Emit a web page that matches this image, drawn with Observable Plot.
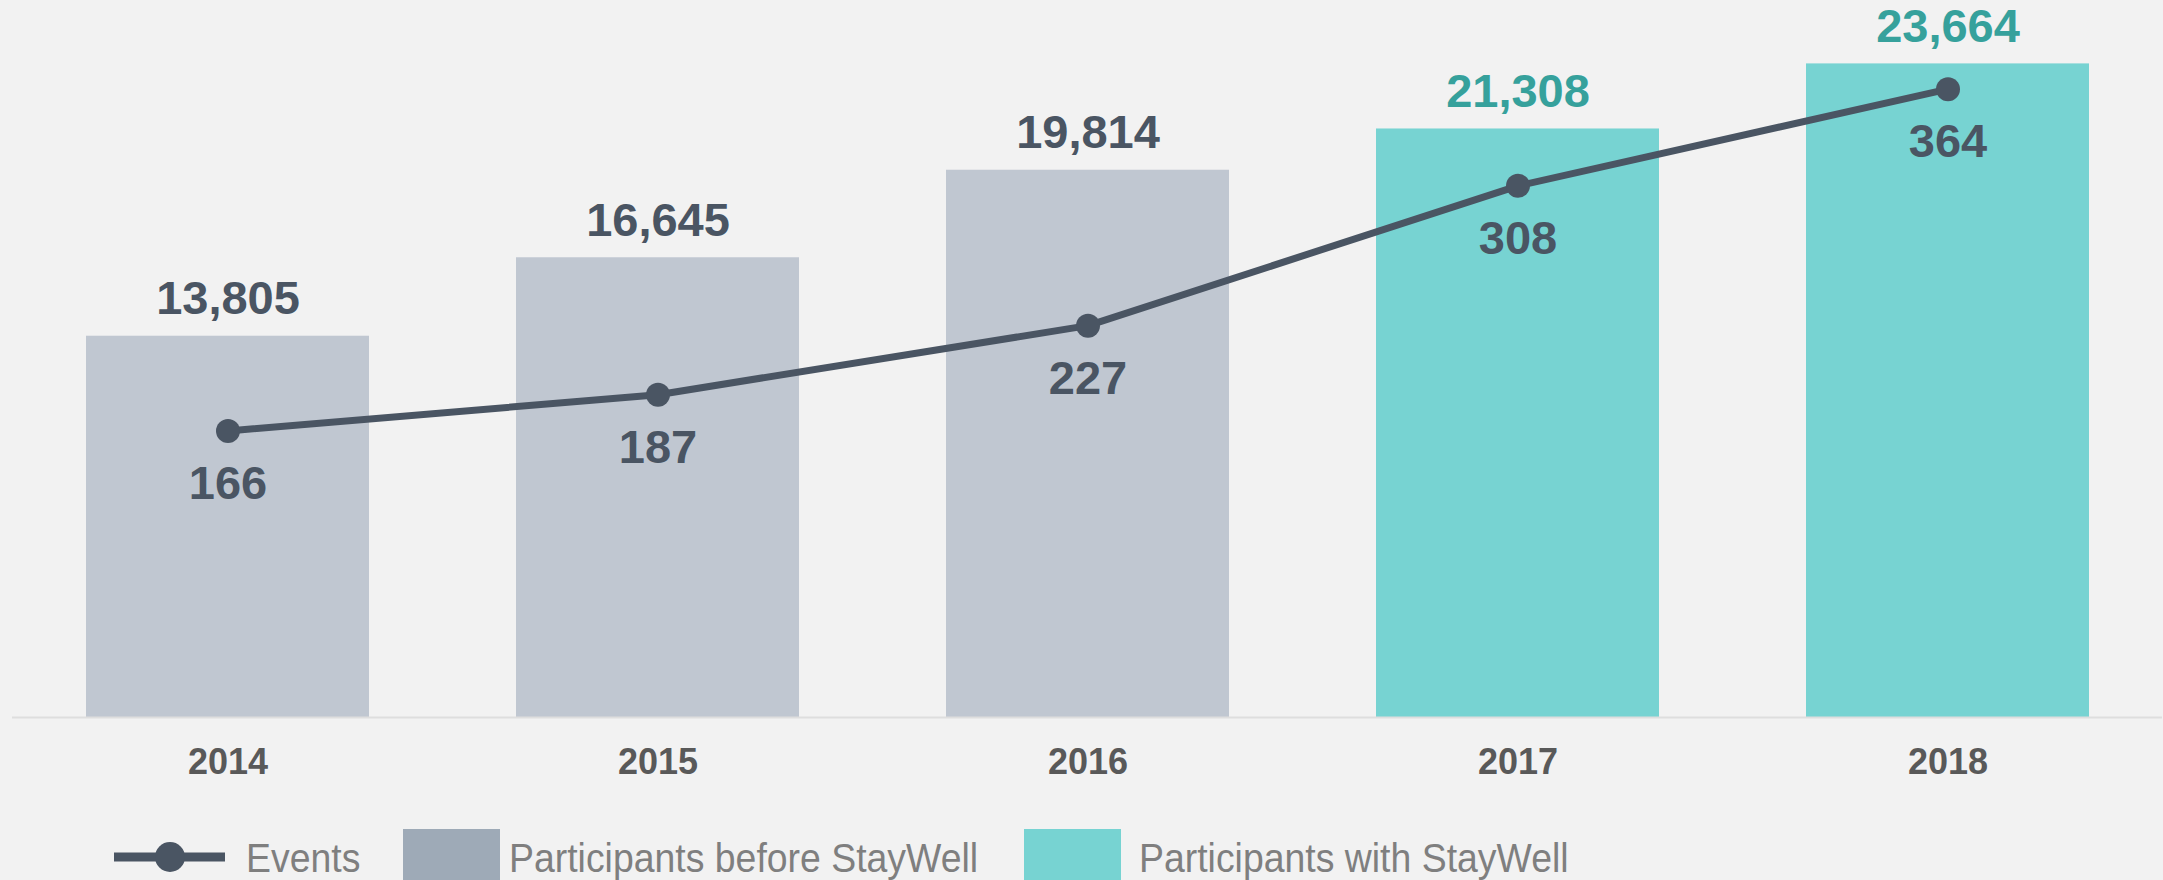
<!DOCTYPE html>
<html>
<head>
<meta charset="utf-8">
<script src="https://cdn.jsdelivr.net/npm/d3@7"></script>
<script src="https://cdn.jsdelivr.net/npm/@observablehq/plot@0.6"></script>
<style>
  html, body { margin: 0; padding: 0; background: #f2f2f2; overflow: hidden; width: 2163px; height: 880px; }
  #chart svg { display: block; }
  #legend { position: relative; height: 70px; width: 2163px; font-family: "Liberation Sans", Arial, sans-serif; color: #7f7f7f; }
  #legend .txt { position: absolute; top: 28px; font-size: 40px; line-height: 40px; white-space: nowrap; transform: scaleX(0.935); transform-origin: left top; }
  #legend .sw { position: absolute; top: 19px; width: 97px; height: 60px; }
</style>
</head>
<body>
<div id="chart"></div>
<div id="legend"></div>
<script>
const years = ["2014", "2015", "2016", "2017", "2018"];
const participants = [13805, 16645, 19814, 21308, 23664];
const events = [166, 187, 227, 308, 364];
const groups = ["before", "before", "before", "with", "with"];
const legendLabels = ["Events", "Participants before StayWell", "Participants with StayWell"];

const barMax = 25000;   // left axis max
const eventMax = 400;   // secondary axis max
const ratio = barMax / eventMax;

const colors = {
  before: "#c0c7d1",
  with: "#77d3d2",
  beforeSwatch: "#9eaab7",
  line: "#4a5563",
  teal: "#36a19c",
  year: "#595959"
};

const data = years.map((y, i) => ({
  year: y,
  participants: participants[i],
  events: events[i],
  group: groups[i]
}));

const chart = Plot.plot({
  width: 2163,
  height: 810,
  marginLeft: 12,
  marginRight: 1,
  marginTop: 26.5,
  marginBottom: 93,
  style: { background: "#f2f2f2", fontFamily: "'Liberation Sans', Arial, sans-serif" },
  x: { type: "band", domain: years, paddingInner: 0.342, paddingOuter: 0.17, axis: null },
  y: { domain: [0, barMax], axis: null },
  marks: [
    Plot.barY(data, { x: "year", y: "participants", fill: d => d.group === "before" ? colors.before : colors.with }),
    Plot.ruleY([0], { stroke: "#dedede", strokeWidth: 2 }),
    Plot.text(data, { x: "year", y: 0, text: "year", dy: 44.5, fontSize: 36, fontWeight: "bold", fill: colors.year }),
    Plot.text(data, { x: "year", y: "participants", text: d => d3.format(",")(d.participants), dy: -37, fontSize: 47, fontWeight: "bold", fill: d => d.group === "before" ? colors.line : colors.teal }),
    Plot.line(data, { x: "year", y: d => d.events * ratio, stroke: colors.line, strokeWidth: 7 }),
    Plot.dot(data, { x: "year", y: d => d.events * ratio, r: 12, fill: colors.line }),
    Plot.text(data, { x: "year", y: d => d.events * ratio, text: d => String(d.events), dy: 53, fontSize: 47, fontWeight: "bold", fill: colors.line })
  ]
});
document.getElementById("chart").appendChild(chart);

// Legend
const legend = document.getElementById("legend");
const ns = "http://www.w3.org/2000/svg";
const sym = document.createElementNS(ns, "svg");
sym.setAttribute("width", "112");
sym.setAttribute("height", "40");
sym.style.position = "absolute";
sym.style.left = "114px";
sym.style.top = "27px";
const ln = document.createElementNS(ns, "line");
ln.setAttribute("x1", "0"); ln.setAttribute("x2", "111");
ln.setAttribute("y1", "20"); ln.setAttribute("y2", "20");
ln.setAttribute("stroke", colors.line); ln.setAttribute("stroke-width", "9");
sym.appendChild(ln);
const c = document.createElementNS(ns, "circle");
c.setAttribute("cx", "56"); c.setAttribute("cy", "20"); c.setAttribute("r", "15");
c.setAttribute("fill", colors.line);
sym.appendChild(c);
legend.appendChild(sym);

function addText(label, left) {
  const s = document.createElement("span");
  s.className = "txt";
  s.style.left = left + "px";
  s.textContent = label;
  legend.appendChild(s);
}
function addSwatch(color, left) {
  const d = document.createElement("div");
  d.className = "sw";
  d.style.left = left + "px";
  d.style.background = color;
  legend.appendChild(d);
}
addText(legendLabels[0], 246);
addSwatch(colors.beforeSwatch, 403);
addText(legendLabels[1], 509);
addSwatch(colors.with, 1024);
addText(legendLabels[2], 1139);
</script>
</body>
</html>
